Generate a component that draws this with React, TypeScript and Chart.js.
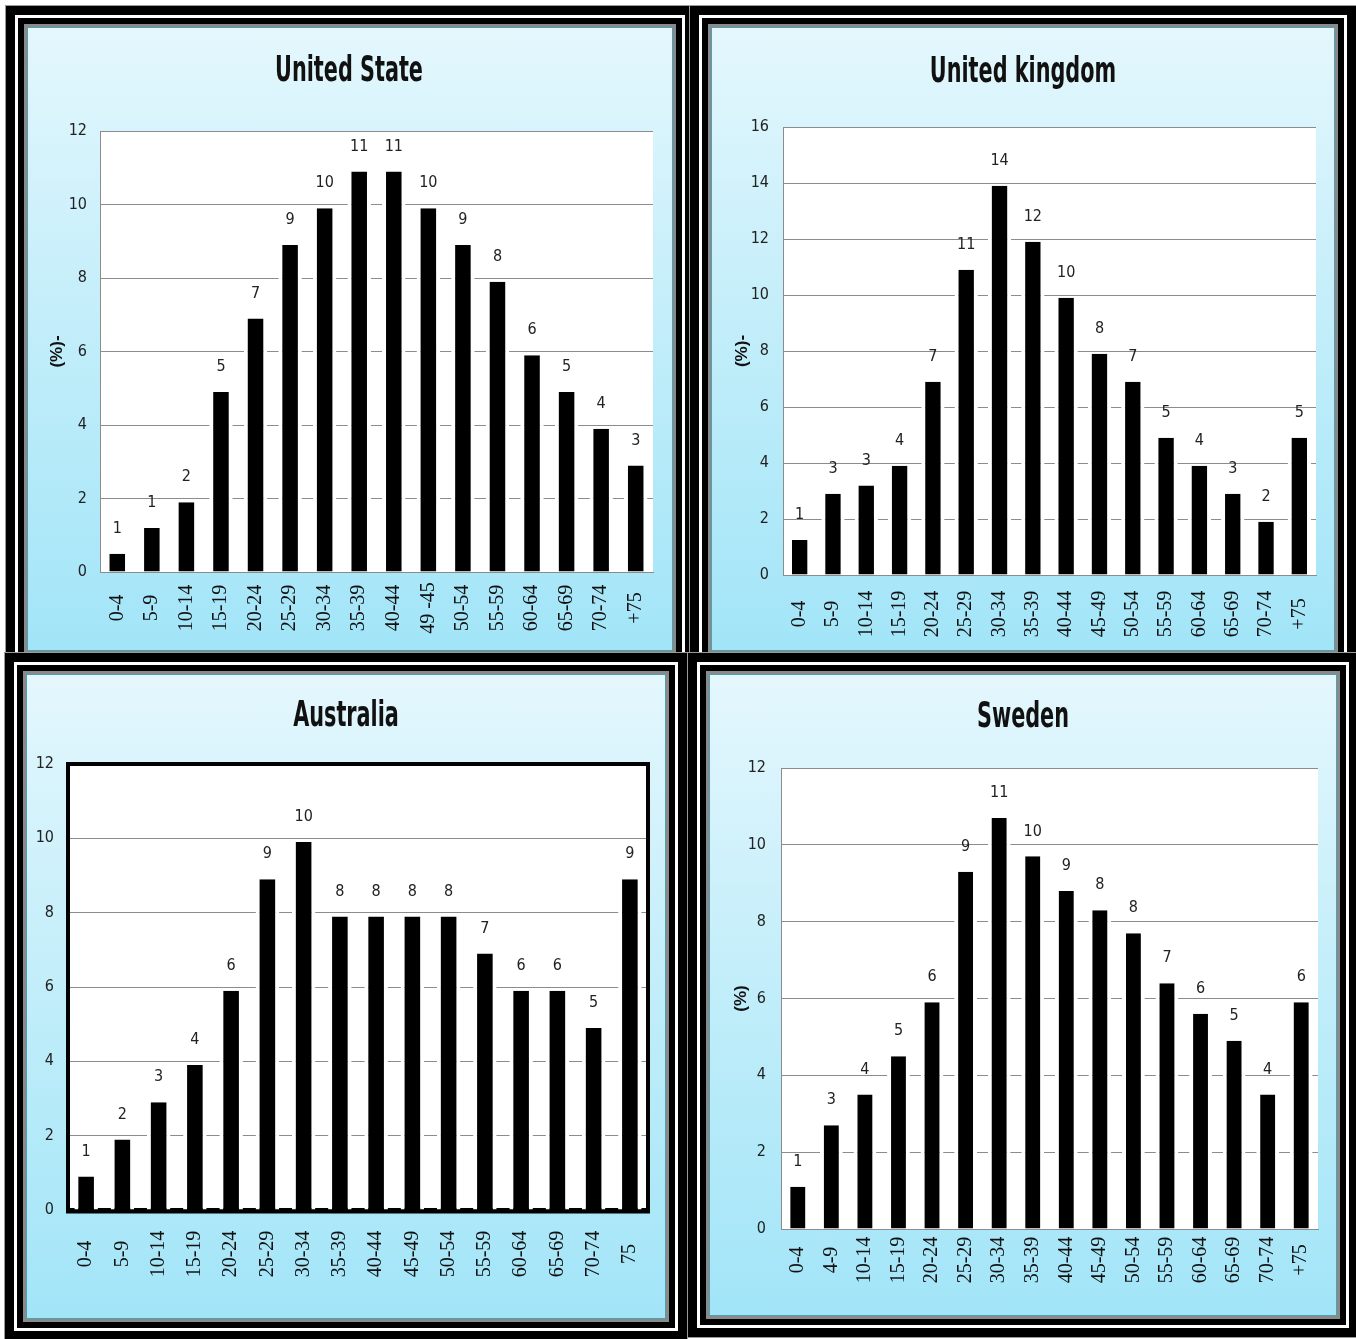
import React, { useEffect, useRef } from "react";
import { Chart, registerables } from "chart.js";

Chart.register(...registerables);

// ---------- data ----------
const usCategories = ["0-4", "5-9", "10-14", "15-19", "20-24", "25-29", "30-34", "35-39", "40-44", "49 -45", "50-54", "55-59", "60-64", "65-69", "70-74", "+75"];
const usValues = [0.5, 1.2, 1.9, 4.9, 6.9, 8.9, 9.9, 10.9, 10.9, 9.9, 8.9, 7.9, 5.9, 4.9, 3.9, 2.9];
const usLabels = ["1", "1", "2", "5", "7", "9", "10", "11", "11", "10", "9", "8", "6", "5", "4", "3"];

const ukCategories = ["0-4", "5-9", "10-14", "15-19", "20-24", "25-29", "30-34", "35-39", "40-44", "45-49", "50-54", "55-59", "60-64", "65-69", "70-74", "+75"];
const ukValues = [1.25, 2.9, 3.2, 3.9, 6.9, 10.9, 13.9, 11.9, 9.9, 7.9, 6.9, 4.9, 3.9, 2.9, 1.9, 4.9];
const ukLabels = ["1", "3", "3", "4", "7", "11", "14", "12", "10", "8", "7", "5", "4", "3", "2", "5"];

const auCategories = ["0-4", "5-9", "10-14", "15-19", "20-24", "25-29", "30-34", "35-39", "40-44", "45-49", "50-54", "55-59", "60-64", "65-69", "70-74", "75"];
const auValues = [0.9, 1.9, 2.9, 3.9, 5.9, 8.9, 9.9, 7.9, 7.9, 7.9, 7.9, 6.9, 5.9, 5.9, 4.9, 8.9];
const auLabels = ["1", "2", "3", "4", "6", "9", "10", "8", "8", "8", "8", "7", "6", "6", "5", "9"];

const seCategories = ["0-4", "4-9", "10-14", "15-19", "20-24", "25-29", "30-34", "35-39", "40-44", "45-49", "50-54", "55-59", "60-64", "65-69", "70-74", "+75"];
const seValues = [1.1, 2.7, 3.5, 4.5, 5.9, 9.3, 10.7, 9.7, 8.8, 8.3, 7.7, 6.4, 5.6, 4.9, 3.5, 5.9];
const seLabels = ["1", "3", "4", "5", "6", "9", "11", "10", "9", "8", "8", "7", "6", "5", "4", "6"];

const usYMax = 12;
const ukYMax = 16;
const auYMax = 12;
const seYMax = 12;
const yStep = 2;

// ---------- styles ----------
const NARROW = '"Liberation Sans Narrow", "DejaVu Sans Condensed", "Roboto Condensed", "Open Sans", sans-serif';
const SANS = '"Liberation Sans", Arial, sans-serif';
const SERIF = '"Liberation Serif", "DejaVu Serif", serif';
const GRID = "#8c8c8c";

type Panel = {
  title: string;
  yTitle: string;
  categories: string[];
  values: number[];
  labels: string[];
  yMax: number;
  gx: number; gy: number; gw: number; gh: number;
  padLeft: number; padRight: number;
  yW: number; xH: number;
  titleX: number; titleY: number; plotTop: number;
  tickPad: number; xLabelOffset: number;
  barPct: number;
  boxed: boolean;
};

const panels: Panel[] = [
  {
    title: "United State", yTitle: "(%)-", categories: usCategories, values: usValues, labels: usLabels, yMax: usYMax,
    gx: 28, gy: 28, gw: 644, gh: 622, padLeft: 19, padRight: 19, yW: 53, xH: 78, titleX: 349, titleY: 72, plotTop: 131,
    tickPad: 13, xLabelOffset: 36, barPct: 0.68, boxed: false,
  },
  {
    title: "United kingdom", yTitle: "(%)-", categories: ukCategories, values: ukValues, labels: ukLabels, yMax: ukYMax,
    gx: 712, gy: 28, gw: 622, gh: 622, padLeft: 20, padRight: 18, yW: 51, xH: 75, titleX: 1023, titleY: 73, plotTop: 127,
    tickPad: 14, xLabelOffset: 39, barPct: 0.7, boxed: false,
  },
  {
    title: "Australia", yTitle: "", categories: auCategories, values: auValues, labels: auLabels, yMax: auYMax,
    gx: 27, gy: 675, gw: 638, gh: 643, padLeft: 8, padRight: 17, yW: 33, xH: 108, titleX: 346, titleY: 717, plotTop: 764,
    tickPad: 14, xLabelOffset: 44, barPct: 0.65, boxed: true,
  },
  {
    title: "Sweden", yTitle: "(%)", categories: seCategories, values: seValues, labels: seLabels, yMax: seYMax,
    gx: 710, gy: 675, gw: 626, gh: 640, padLeft: 21, padRight: 18, yW: 50, xH: 86, titleX: 1023, titleY: 718, plotTop: 768,
    tickPad: 15, xLabelOffset: 31, barPct: 0.68, boxed: false,
  },
];

function BarPanel({ p }: { p: Panel }) {
  const ref = useRef<HTMLCanvasElement | null>(null);

  useEffect(() => {
    if (!ref.current) return;

    const plotBg = {
      id: "plotBg",
      beforeDraw(chart: any) {
        const { ctx, chartArea: a } = chart;
        ctx.save();
        ctx.fillStyle = "#ffffff";
        ctx.fillRect(a.left, a.top, a.right - a.left, a.bottom - a.top);
        ctx.restore();
      },
    };

    const panelTitle = {
      id: "panelTitle",
      afterDraw(chart: any) {
        const { ctx } = chart;
        ctx.save();
        ctx.fillStyle = "#111111";
        ctx.font = `bold 35px ${NARROW}`;
        ctx.textAlign = "center";
        ctx.textBaseline = "middle";
        ctx.translate(p.titleX - p.gx, p.titleY - p.gy);
        ctx.scale(0.66, 1);
        ctx.fillText(p.title, 0, 0);
        ctx.restore();
      },
    };

    const boxBorder = {
      id: "boxBorder",
      beforeDatasetsDraw(chart: any) {
        if (!p.boxed) return;
        const { ctx, chartArea: a } = chart;
        ctx.save();
        ctx.strokeStyle = "#000000";
        ctx.lineWidth = 4;
        ctx.strokeRect(a.left, a.top, a.right - a.left, a.bottom - a.top);
        ctx.lineWidth = 5;
        ctx.beginPath();
        ctx.moveTo(a.left - 2, a.bottom + 1);
        ctx.lineTo(a.right + 2, a.bottom + 1);
        ctx.stroke();
        ctx.restore();
      },
    };

    const valueLabels = {
      id: "valueLabels",
      afterDatasetsDraw(chart: any) {
        const { ctx } = chart;
        const meta = chart.getDatasetMeta(0);
        ctx.save();
        ctx.fillStyle = "#222222";
        ctx.font = `16px ${NARROW}`;
        ctx.textAlign = "center";
        ctx.textBaseline = "middle";
        meta.data.forEach((el: any, i: number) => {
          ctx.fillText(p.labels[i], el.x, el.y - 25);
        });
        ctx.restore();
      },
    };

    const xLabels = {
      id: "xLabels",
      afterDraw(chart: any) {
        const { ctx } = chart;
        const xs = chart.scales.x;
        const cy = chart.chartArea.bottom + p.xLabelOffset;
        ctx.save();
        ctx.fillStyle = "#111111";
        ctx.font = `20px ${SERIF}`;
        ctx.textAlign = "center";
        ctx.textBaseline = "middle";
        xs.ticks.forEach((t: any, i: number) => {
          const x = xs.getPixelForTick(i);
          const lbl = xs.getLabelForValue(t.value);
          ctx.save();
          ctx.translate(x, cy);
          ctx.rotate(-Math.PI / 2);
          ctx.fillText(lbl, 0, 0);
          ctx.restore();
        });
        ctx.restore();
      },
    };

    const chart = new Chart(ref.current, {
      type: "bar",
      data: {
        labels: p.categories,
        datasets: [
          {
            data: p.values,
            backgroundColor: "#000000",
            borderColor: "#ffffff",
            borderWidth: { top: 0, left: 4, right: 4, bottom: 0 },
            borderSkipped: "start",
            barPercentage: p.barPct,
            categoryPercentage: 1,
          },
        ],
      },
      options: {
        animation: false,
        responsive: true,
        maintainAspectRatio: false,
        layout: { padding: { left: p.padLeft, right: p.padRight, top: p.plotTop - p.gy, bottom: 0 } },
        plugins: {
          legend: { display: false },
          tooltip: { enabled: false },
          title: { display: false },
        },
        scales: {
          x: {
            type: "category",
            offset: true,
            grid: { display: false, drawTicks: false },
            border: { display: !p.boxed, color: GRID, width: 1 },
            ticks: { display: false },
            afterFit: (s: any) => { s.height = p.xH; },
          },
          y: {
            min: 0,
            max: p.yMax,
            ticks: { stepSize: yStep, padding: p.tickPad, color: "#222222", font: { family: NARROW, size: 16 } },
            grid: { color: GRID, lineWidth: 1, drawTicks: false },
            border: { display: !p.boxed, color: GRID, width: 1 },
            title: {
              display: p.yTitle !== "",
              text: p.yTitle,
              color: "#111111",
              font: { family: SANS, size: 17, weight: "bold", lineHeight: 1.2 },
              padding: 0,
            },
            afterFit: (s: any) => { s.width = p.yW; },
          },
        },
      } as any,
      plugins: [plotBg, boxBorder, valueLabels, xLabels, panelTitle],
    });
    return () => chart.destroy();
  }, [p]);

  return (
    <div
      style={{
        position: "absolute",
        left: p.gx,
        top: p.gy,
        width: p.gw,
        height: p.gh,
        background: "linear-gradient(to bottom, #e4f7fd 0%, #c4eefa 45%, #a2e5f8 100%)",
        boxShadow:
          "0 0 0 1px #4f9fb0, 0 0 0 4px #8a8a8a, 0 0 0 10px #000000, 0 0 0 13px #ffffff, 0 0 0 22px #000000, 0 0 0 23px #9a9a9a",
      }}
    >
      <div style={{ position: "relative", width: "100%", height: "100%" }}>
        <canvas ref={ref} />
      </div>
    </div>
  );
}

export default function App() {
  return (
    <div style={{ position: "absolute", left: 0, top: 0, width: 1356, height: 1339, background: "#ffffff", overflow: "hidden" }}>
      {panels.map((p) => (
        <BarPanel key={p.title} p={p} />
      ))}
    </div>
  );
}
